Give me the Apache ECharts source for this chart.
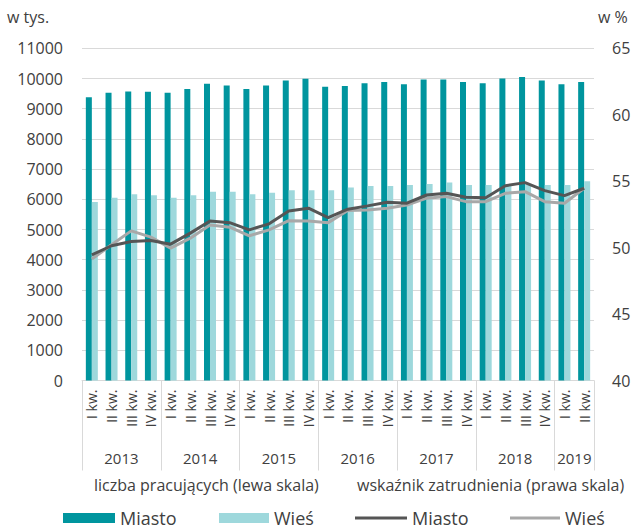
<!DOCTYPE html>
<html>
<head>
<meta charset="utf-8">
<script src="https://cdn.jsdelivr.net/npm/echarts@6/dist/echarts.min.js"></script>
<style>
html,body{margin:0;padding:0;background:#fff;}
#chart{width:635px;height:530px;}
</style>
</head>
<body>
<div id="chart"></div>
<script>
const quarterLabels = [
  'I kw.','II kw.','III kw.','IV kw.',
  'I kw.','II kw.','III kw.','IV kw.',
  'I kw.','II kw.','III kw.','IV kw.',
  'I kw.','II kw.','III kw.','IV kw.',
  'I kw.','II kw.','III kw.','IV kw.',
  'I kw.','II kw.','III kw.','IV kw.',
  'I kw.','II kw.'
];
const years = ['2013','2014','2015','2016','2017','2018','2019'];
const quartersPerYear = [4,4,4,4,4,4,2];

const miastoBars = [9380,9530,9570,9560,9530,9650,9830,9770,9650,9770,9930,9990,9730,9750,9840,9880,9810,9970,9970,9880,9840,10000,10050,9930,9810,9880];
const wiesBars   = [5910,6050,6170,6130,6050,6130,6250,6250,6170,6220,6300,6300,6300,6390,6440,6440,6470,6510,6560,6470,6470,6480,6500,6470,6470,6600];
const miastoRate = [49.46,50.14,50.46,50.53,50.26,51.09,52.01,51.88,51.34,51.79,52.76,52.97,52.26,52.89,53.14,53.42,53.34,53.96,54.09,53.79,53.76,54.66,54.89,54.29,53.91,54.47];
const wiesRate   = [49.14,50.21,51.26,50.79,49.96,50.71,51.71,51.54,50.89,51.34,52.03,52.01,51.88,52.79,52.84,52.97,53.21,53.72,53.84,53.46,53.46,54.09,54.21,53.46,53.34,54.47];

const leftTitle = 'liczba pracujących (lewa skala)';
const rightTitle = 'wskaźnik zatrudnienia (prawa skala)';
const leftUnit = 'w tys.';
const rightUnit = 'w %';

// year boundaries and centers (doubled positions keep integers)
const boundaries = new Set();
const yearCenters = {};
let acc = 0;
quartersPerYear.forEach((n, i) => {
  boundaries.add(acc);
  yearCenters[acc * 2 + n] = years[i];
  acc += n;
});

const FONT = 'Open Sans';
const TXT = '#404040';
const C_MIASTO_BAR = '#00959e';
const C_WIES_BAR = '#9ed8dc';
const C_MIASTO_LINE = '#555555';
const C_WIES_LINE = '#a8a8a8';

const chart = echarts.init(document.getElementById('chart'), null, {renderer: 'svg'});
chart.setOption({
  animation: false,
  textStyle: {fontFamily: FONT, color: TXT},
  title: [
    {text: leftUnit, left: 7, top: 9, textStyle: {fontFamily: FONT, fontSize: 16, fontWeight: 'normal', color: TXT}, padding: 0},
    {text: rightUnit, left: 598, top: 9, textStyle: {fontFamily: FONT, fontSize: 16, fontWeight: 'normal', color: TXT}, padding: 0},
    {text: leftTitle, left: 94, top: 477, textStyle: {fontFamily: FONT, fontSize: 16, fontWeight: 'normal', color: TXT}, padding: 0},
    {text: rightTitle, left: 357, top: 477, textStyle: {fontFamily: FONT, fontSize: 16, fontWeight: 'normal', color: TXT}, padding: 0}
  ],
  legend: [
    {data: [{name: 'Miasto', icon: 'rect'}], left: 63, top: 509, padding: 0, itemWidth: 52, itemHeight: 10,
     textStyle: {fontFamily: FONT, fontSize: 18, color: TXT}, selectedMode: false},
    {data: [{name: 'Wieś', icon: 'rect'}], left: 219, top: 509, padding: 0, itemWidth: 50, itemHeight: 10,
     textStyle: {fontFamily: FONT, fontSize: 18, color: TXT}, selectedMode: false},
    {data: [{name: 'Miasto ', icon: 'rect', itemStyle: {color: C_MIASTO_LINE}}], left: 355, top: 509, padding: 0, itemWidth: 52, itemHeight: 3,
     textStyle: {fontFamily: FONT, fontSize: 18, color: TXT}, selectedMode: false},
    {data: [{name: 'Wieś ', icon: 'rect', itemStyle: {color: C_WIES_LINE}}], left: 510, top: 509, padding: 0, itemWidth: 50, itemHeight: 3,
     textStyle: {fontFamily: FONT, fontSize: 18, color: TXT}, selectedMode: false}
  ],
  grid: {left: 82, right: 41, top: 48.3, bottom: 149.5, containLabel: false},
  xAxis: [
    {
      type: 'category',
      data: quarterLabels,
      boundaryGap: true,
      axisLine: {show: true, lineStyle: {color: '#d9d9d9', width: 1}},
      axisTick: {show: true, length: 90, interval: (i) => boundaries.has(i), lineStyle: {color: '#d9d9d9', width: 1}},
      axisLabel: {interval: 0, rotate: 90, margin: 9, fontFamily: FONT, fontSize: 14, color: TXT}
    },
    {
      type: 'value',
      min: 0, max: 52, interval: 1,
      position: 'bottom',
      offset: 62,
      axisLine: {show: false},
      axisTick: {show: false},
      splitLine: {show: false},
      axisLabel: {margin: 8, fontFamily: FONT, fontSize: 15, color: TXT, showMinLabel: true, showMaxLabel: true,
                  formatter: (v) => yearCenters[Math.round(v)] || ''}
    }
  ],
  yAxis: [
    {
      type: 'value', min: 0, max: 11000, interval: 1000,
      axisLine: {show: false}, axisTick: {show: false},
      splitLine: {show: true, lineStyle: {color: '#d9d9d9', width: 1}},
      axisLabel: {margin: 19, fontFamily: FONT, fontSize: 16, color: TXT, formatter: (v) => String(v)}
    },
    {
      type: 'value', min: 40, max: 65, interval: 5, position: 'right',
      axisLine: {show: false}, axisTick: {show: false},
      splitLine: {show: false},
      axisLabel: {margin: 18, fontFamily: FONT, fontSize: 16, color: TXT, formatter: (v) => String(v)}
    }
  ],
  series: [
    {name: 'Miasto', type: 'bar', data: miastoBars, barWidth: 6, barGap: '0%', itemStyle: {color: C_MIASTO_BAR}},
    {name: 'Wieś', type: 'bar', data: wiesBars, barWidth: 6, barGap: '0%', itemStyle: {color: C_WIES_BAR}},
    {name: 'Miasto ', type: 'line', yAxisIndex: 1, data: miastoRate, symbol: 'none', lineStyle: {color: C_MIASTO_LINE, width: 3}, itemStyle: {color: C_MIASTO_LINE}, z: 5},
    {name: 'Wieś ', type: 'line', yAxisIndex: 1, data: wiesRate, symbol: 'none', lineStyle: {color: C_WIES_LINE, width: 3}, itemStyle: {color: C_WIES_LINE}, z: 4}
  ]
});
</script>
</body>
</html>
